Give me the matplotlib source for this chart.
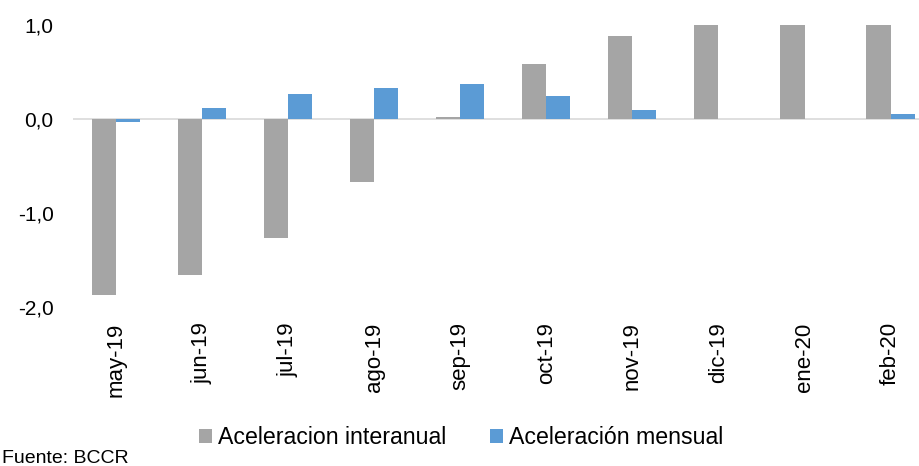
import matplotlib.pyplot as plt
import numpy as np

plt.rcParams['font.family'] = ['Liberation Sans', 'DejaVu Sans']

meses = ['may-19', 'jun-19', 'jul-19', 'ago-19', 'sep-19',
         'oct-19', 'nov-19', 'dic-19', 'ene-20', 'feb-20']
interanual = [-1.87, -1.66, -1.26, -0.67, 0.02, 0.585, 0.88, 1.01, 1.01, 1.01]
mensual = [-0.03, 0.12, 0.27, 0.33, 0.37, 0.245, 0.10, 0.0, 0.0, 0.05]

fig = plt.figure(figsize=(9.19, 4.66), dpi=100)
ax = fig.add_axes([0.0794, 0.341, 0.9206, 0.605])

x = np.arange(len(meses))
w = 0.28
ax.bar(x - w / 2, interanual, w, color='#A5A5A5', linewidth=0,
       label='Aceleracion interanual')
ax.bar(x + w / 2, mensual, w, color='#5B9BD5', linewidth=0,
       label='Aceleración mensual')

ax.axhline(0, color='#D9D9D9', linewidth=1.2, zorder=0)
ax.set_xlim(-0.5, 9.33)
ax.set_ylim(-2, 1)
ax.set_yticks([-2, -1, 0, 1])
ax.set_yticklabels(['-2,0', '-1,0', '0,0', '1,0'], fontsize=15)
ax.set_xticks(x)
ax.set_xticklabels(meses, rotation=90, fontsize=16)
ax.tick_params(length=0)
ax.tick_params(axis='x', pad=11)
ax.tick_params(axis='y', pad=14)
for s in ax.spines.values():
    s.set_visible(False)

fig.legend(loc='center', bbox_to_anchor=(0.502, 0.061), ncol=2, frameon=False,
           fontsize=16.7, handlelength=0.55, handleheight=0.55, handletextpad=0.25,
           columnspacing=1.9)
fig.text(0.002, 0.017, 'Fuente: BCCR', fontsize=14, va='center')

fig.savefig('out.png', dpi=100)
